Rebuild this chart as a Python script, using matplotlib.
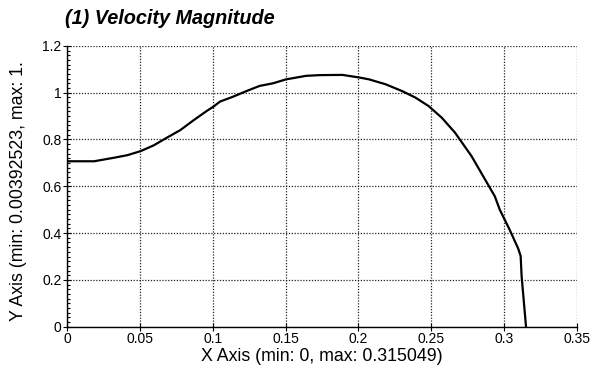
import matplotlib
matplotlib.use("Agg")
import matplotlib.pyplot as plt
from matplotlib.ticker import MultipleLocator

# values
x_vals = [0.0, 0.0186, 0.0322, 0.0414, 0.0504, 0.0595, 0.0686, 0.0777, 0.0868,
          0.0959, 0.1004, 0.1050, 0.1140, 0.1232, 0.1322, 0.1413, 0.1504,
          0.1641, 0.1731, 0.1890, 0.2004, 0.2072, 0.2186, 0.2299, 0.2391,
          0.2481, 0.2572, 0.2663, 0.2776, 0.2856, 0.2936, 0.2970, 0.3038,
          0.3095, 0.3113, 0.3120, 0.3132, 0.3150]
y_vals = [0.707, 0.707, 0.722, 0.733, 0.750, 0.775, 0.808, 0.840, 0.882,
          0.922, 0.940, 0.962, 0.983, 1.007, 1.029, 1.040, 1.057,
          1.072, 1.075, 1.076, 1.065, 1.057, 1.036, 1.007, 0.979,
          0.943, 0.893, 0.829, 0.729, 0.643, 0.557, 0.500, 0.414,
          0.336, 0.303, 0.214, 0.129, 0.0]

x_ticks = [0, 0.05, 0.1, 0.15, 0.2, 0.25, 0.3, 0.35]
x_tick_labels = ["0", "0.05", "0.1", "0.15", "0.2", "0.25", "0.3", "0.35"]
y_ticks = [0, 0.2, 0.4, 0.6, 0.8, 1.0, 1.2]
y_tick_labels = ["0", "0.2", "0.4", "0.6", "0.8", "1", "1.2"]

title = "(1) Velocity Magnitude"
x_label = "X Axis (min: 0, max: 0.315049)"
y_label = "Y Axis (min: 0.00392523, max: 1."

plt.rcParams['font.family'] = ['Liberation Sans', 'DejaVu Sans']

fig = plt.figure(figsize=(5.9, 3.76), dpi=100)
ax = fig.add_axes([0.1136, 0.131, 0.8644, 0.747])

ax.plot(x_vals, y_vals, color='black', lw=1.6)

ax.set_xlim(0, 0.35)
ax.set_ylim(0, 1.2)
ax.set_xticks(x_ticks)
ax.set_xticklabels(x_tick_labels)
ax.set_yticks(y_ticks)
ax.set_yticklabels(y_tick_labels)
ax.yaxis.set_minor_locator(MultipleLocator(0.02))

ax.grid(True, which='major', color='#222222', linestyle=(0, (1, 1.3)), linewidth=0.9)
ax.set_axisbelow(True)

for s in ['top', 'right']:
    ax.spines[s].set_visible(False)
for s in ['left', 'bottom']:
    ax.spines[s].set_linewidth(1.0)

ax.tick_params(axis='both', which='major', direction='inout', length=6,
               width=0.8, labelsize=10, pad=1)
ax.tick_params(axis='y', which='minor', direction='in', length=2.5, width=0.8)

ax.set_xlabel(x_label, fontsize=12.8, labelpad=1)
ax.set_ylabel(y_label, fontsize=12.8)
# right edge of the rotated label sits about 27 px from the figure's left edge
ax.yaxis.set_label_coords(-(67 - 27) / 510, 0.482)

fig.text(65 / 590, 1 - 18 / 376, title, fontsize=14.3, fontweight='bold',
         fontstyle='italic', ha='left', va='center')

fig.savefig("out.png", dpi=100)
